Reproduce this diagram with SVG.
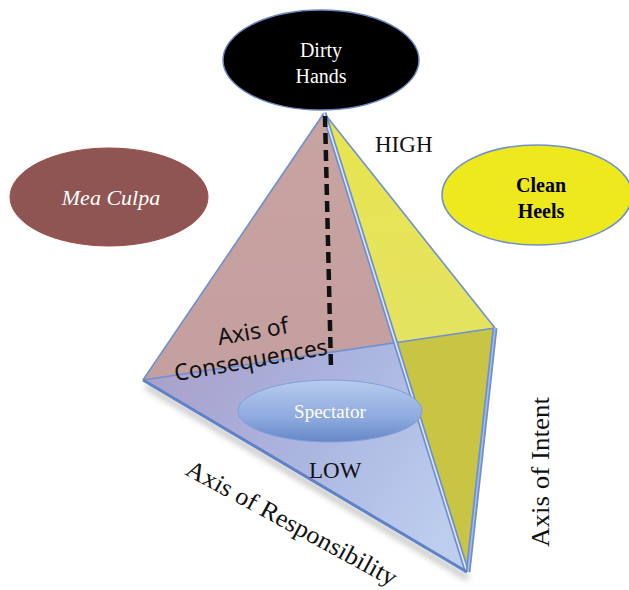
<svg xmlns="http://www.w3.org/2000/svg" width="629" height="590" viewBox="0 0 629 590">
<defs>
<linearGradient id="gBase" x1="143" y1="370" x2="420" y2="560" gradientUnits="userSpaceOnUse">
<stop offset="0" stop-color="#a99fc9"/>
<stop offset="0.5" stop-color="#aab4df"/>
<stop offset="1" stop-color="#bccdee"/>
</linearGradient>
<linearGradient id="gPink" x1="0" y1="0" x2="0" y2="1">
<stop offset="0" stop-color="#c7a3a1"/>
<stop offset="1" stop-color="#c49f9f"/>
</linearGradient>
<linearGradient id="gSpec" x1="0" y1="0" x2="0" y2="1">
<stop offset="0" stop-color="#b7cbec"/>
<stop offset="0.6" stop-color="#8faadf"/>
<stop offset="1" stop-color="#6488c8"/>
</linearGradient>
<linearGradient id="gYel" x1="0" y1="0" x2="0" y2="1">
<stop offset="0" stop-color="#e8e54e"/>
<stop offset="1" stop-color="#e4e362"/>
</linearGradient>
<filter id="sh" x="-20%" y="-20%" width="140%" height="140%">
<feGaussianBlur stdDeviation="3"/>
</filter>
</defs>
<style>
.edge{fill:none;stroke:#6f90cf;stroke-width:1.6}
.t{font-family:"Liberation Serif","DejaVu Serif",serif}
.s{font-family:"Noto Sans","DejaVu Sans",sans-serif}
</style>
<rect width="629" height="590" fill="#ffffff"/>

<g id="pyramid">
<polyline points="146,386 468,578" fill="none" stroke="#9a9a9a" stroke-width="6" filter="url(#sh)" opacity="0.6"/>
<polygon points="324,113 143,380 396,343" fill="url(#gPink)"/>
<polygon points="143,380 396,343 467,572" fill="url(#gBase)"/>
<polygon points="324,113 495,328 396,343" fill="url(#gYel)"/>
<polygon points="396,343 495,328 467,572" fill="#c9c544"/>
</g>

<g id="connectors">
<line class="edge" x1="324" y1="113" x2="143" y2="380"/>
<line class="edge" x1="324" y1="113" x2="495" y2="328" stroke-width="1.8"/>
<line class="edge" x1="143" y1="380" x2="495" y2="328" stroke="#7f95cc" stroke-width="1.2"/>
<line x1="324" y1="113" x2="467" y2="572" stroke="#6f90cf" stroke-width="5"/>
<line x1="324" y1="113" x2="467" y2="572" stroke="#dfe6f4" stroke-width="1.6"/>
<line x1="495" y1="328" x2="468" y2="572" stroke="#6f90cf" stroke-width="5"/>
<line x1="495" y1="328" x2="468" y2="572" stroke="#a7bde6" stroke-width="1.5"/>
<line x1="143" y1="380" x2="467" y2="572" stroke="#5e82c6" stroke-width="3"/>
<line x1="325" y1="116" x2="331" y2="368" stroke="#111111" stroke-width="4.5" stroke-dasharray="11 6"/>
</g>

<g id="dirty-hands">
<ellipse cx="321" cy="60" rx="98" ry="50" fill="#000000" stroke="#6a86c0" stroke-width="1.5"/>
<text class="t" x="321" y="57" font-size="20" fill="#ffffff" text-anchor="middle">Dirty</text>
<text class="t" x="321" y="83" font-size="20" fill="#ffffff" text-anchor="middle">Hands</text>
</g>

<g id="mea-culpa">
<ellipse cx="109" cy="197" rx="99" ry="49" fill="#8f5553" stroke="#a04a48" stroke-width="1"/>
<text class="t" x="111" y="205" font-size="22" font-style="italic" fill="#ffffff" text-anchor="middle">Mea Culpa</text>
</g>

<g id="clean-heels">
<ellipse cx="537" cy="195" rx="95" ry="50" fill="#ede91c" stroke="#6f8fcf" stroke-width="1.6"/>
<text class="t" x="541" y="192" font-size="20" font-weight="bold" fill="#000000" text-anchor="middle">Clean</text>
<text class="t" x="541" y="218" font-size="20" font-weight="bold" fill="#000000" text-anchor="middle">Heels</text>
</g>

<g id="spectator">
<ellipse cx="330" cy="411" rx="92" ry="31" fill="url(#gSpec)" stroke="#7f9fd6" stroke-width="1"/>
<text class="t" x="330" y="418" font-size="19" fill="#ffffff" text-anchor="middle">Spectator</text>
</g>

<g id="labels">
<text class="t" x="375" y="152" font-size="23" fill="#111111">HIGH</text>
<text class="t" x="309" y="478" font-size="23" fill="#111111">LOW</text>
<g transform="rotate(-10 250 350)">
<text class="s" x="256" y="340" font-size="23" fill="#111111" text-anchor="middle">Axis of</text>
<text class="s" x="249" y="368" font-size="23" fill="#111111" text-anchor="middle" textLength="155" lengthAdjust="spacingAndGlyphs">Consequences</text>
</g>
<text class="t" x="0" y="0" font-size="25" fill="#111111" textLength="236" lengthAdjust="spacingAndGlyphs" transform="translate(184,474) rotate(28.5)">Axis of Responsibility</text>
<text class="t" x="0" y="0" font-size="25" fill="#111111" textLength="150" lengthAdjust="spacingAndGlyphs" transform="translate(549,547) rotate(-90)">Axis of Intent</text>
</g>
</svg>
